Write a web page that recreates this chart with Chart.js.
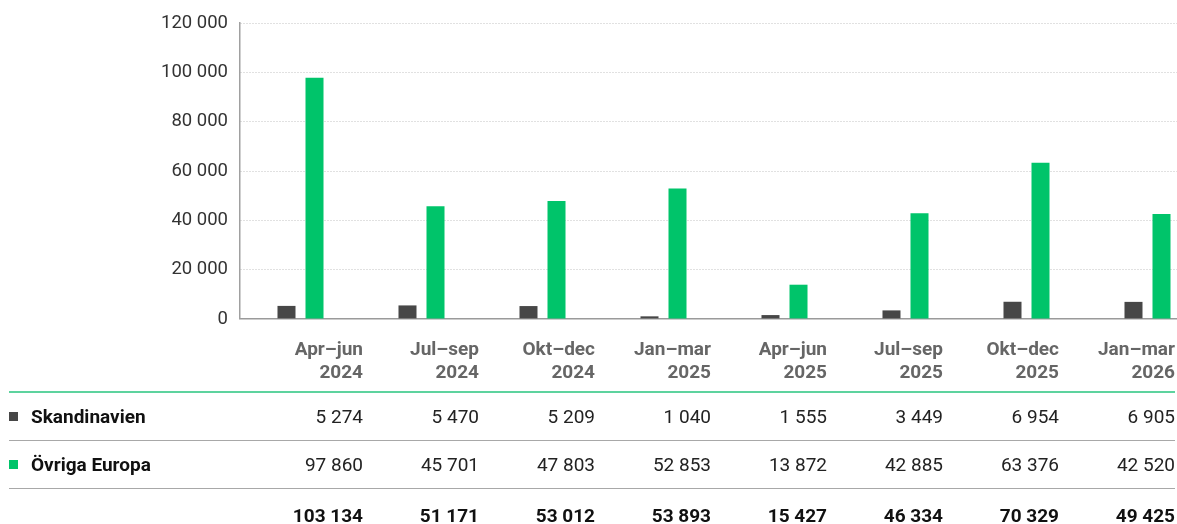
<!DOCTYPE html>
<html lang="sv">
<head>
    <meta charset="UTF-8">
    <title>Skandinavien / Övriga Europa per kvartal</title>
    <script src="https://cdn.jsdelivr.net/npm/chart.js"></script>
    <style>
        body {
            margin: 0;
            background: #fff;
            font-family: Roboto, 'Noto Sans', sans-serif;
            width: 1177px;
            height: 524px;
            overflow: hidden;
            position: relative;
        }
        .chart-box {
            position: absolute;
            left: 0;
            top: 0;
            width: 1177px;
            height: 342px;
            overflow: hidden;
        }
        table {
            position: absolute;
            left: 9px;
            top: 337px;
            width: 1166px;
            border-collapse: collapse;
            table-layout: fixed;
            font-size: 19px;
        }
        th, td {
            padding: 0;
            text-align: right;
        }
        thead th {
            color: #666;
            font-weight: 700;
            line-height: 23px;
            padding-bottom: 8px;
            vertical-align: bottom;
            border-bottom: 2px solid #5dd39e;
        }
        tbody td {
            height: 47px;
            color: #222;
            border-bottom: 1px solid #a8a8a8;
        }
        tbody td.label {
            text-align: left;
            font-weight: 700;
            color: #111;
        }
        .sq {
            display: inline-block;
            width: 9px;
            height: 9px;
            margin-right: 13px;
            vertical-align: 2px;
        }
        tr.total td {
            border-bottom: none;
            font-weight: 700;
            color: #111;
            height: 52px;
        }
    </style>
</head>
<body>
    <div class="chart-box">
        <canvas id="barChart" width="1208" height="342"></canvas>
    </div>
    <table id="dataTable">
        <colgroup>
            <col style="width:238px">
            <col span="8" style="width:116px">
        </colgroup>
        <thead><tr id="headRow"><th></th></tr></thead>
        <tbody id="bodyRows"></tbody>
    </table>

    <script>
        const periods = ['Apr–jun', 'Jul–sep', 'Okt–dec', 'Jan–mar', 'Apr–jun', 'Jul–sep', 'Okt–dec', 'Jan–mar'];
        const years = ['2024', '2024', '2024', '2025', '2025', '2025', '2025', '2026'];
        const skandinavien = [5274, 5470, 5209, 1040, 1555, 3449, 6954, 6905];
        const ovrigaEuropa = [97860, 45701, 47803, 52853, 13872, 42885, 63376, 42520];
        const totals = [103134, 51171, 53012, 53893, 15427, 46334, 70329, 49425];
        const yTicks = [0, 20000, 40000, 60000, 80000, 100000, 120000];

        const darkColor = '#474747';
        const greenColor = '#00c46a';

        const fmt = v => v.toLocaleString('sv-SE');

        // table below the chart
        const headRow = document.getElementById('headRow');
        periods.forEach((p, i) => {
            const th = document.createElement('th');
            th.innerHTML = p + '<br>' + years[i];
            headRow.appendChild(th);
        });

        const bodyRows = document.getElementById('bodyRows');
        function addRow(label, color, values, cls) {
            const tr = document.createElement('tr');
            if (cls) tr.className = cls;
            const first = document.createElement('td');
            first.className = label ? 'label' : '';
            if (label) {
                first.innerHTML = '<span class="sq" style="background:' + color + '"></span>' + label;
            }
            tr.appendChild(first);
            values.forEach(v => {
                const td = document.createElement('td');
                td.textContent = fmt(v);
                tr.appendChild(td);
            });
            bodyRows.appendChild(tr);
        }
        addRow('Skandinavien', darkColor, skandinavien);
        addRow('Övriga Europa', greenColor, ovrigaEuropa);
        addRow('', null, totals, 'total');

        // bar chart
        const ctx = document.getElementById('barChart').getContext('2d');
        new Chart(ctx, {
            type: 'bar',
            data: {
                labels: periods.map((p, i) => p + ' ' + years[i]),
                datasets: [{
                    label: 'Skandinavien',
                    data: skandinavien,
                    backgroundColor: darkColor
                }, {
                    label: 'Övriga Europa',
                    data: ovrigaEuropa,
                    backgroundColor: greenColor
                }]
            },
            options: {
                responsive: false,
                animation: false,
                categoryPercentage: 0.463,
                barPercentage: 0.643,
                layout: {
                    padding: { top: 21, bottom: 1, left: 0, right: 0 }
                },
                plugins: {
                    legend: { display: false },
                    tooltip: { enabled: false }
                },
                scales: {
                    x: {
                        grid: { display: false },
                        ticks: { display: false },
                        border: { display: true, color: '#9a9a9a', width: 1.5 },
                        afterFit: scale => { scale.height = 0; }
                    },
                    y: {
                        min: 0,
                        max: 120000,
                        afterBuildTicks: scale => {
                            scale.ticks = yTicks.map(v => ({ value: v }));
                        },
                        afterFit: scale => { scale.width = 240; },
                        grid: {
                            color: '#c2c2c2',
                            lineWidth: 1,
                            drawTicks: false
                        },
                        border: { display: true, color: '#a0a0a0', width: 1.5, dash: [1, 2] },
                        ticks: {
                            padding: 12,
                            color: '#333',
                            font: { family: 'Roboto', size: 18.5 },
                            callback: v => fmt(v)
                        }
                    }
                }
            }
        });
    </script>
</body>
</html>
